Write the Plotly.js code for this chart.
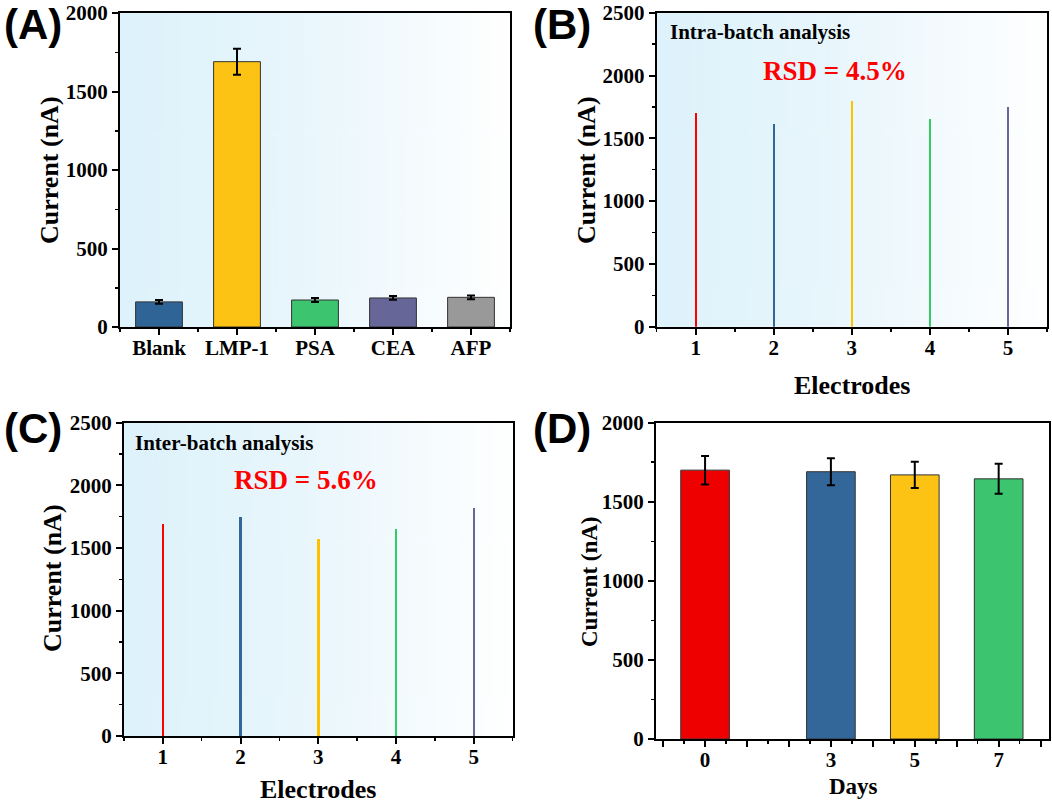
<!DOCTYPE html>
<html><head><meta charset="utf-8">
<script src="https://cdn.plot.ly/plotly-3.0.1.min.js"></script>
<style>html,body{margin:0;padding:0;background:#fff}#chart{width:1052px;height:804px}</style>
</head><body><div id="chart"></div>
<script>
// ---- data ----
const catsA = ['Blank', 'LMP-1', 'PSA', 'CEA', 'AFP'];
const valsA = [160, 1690, 172, 185, 189];
const errA = [12, 83, 13, 12, 12];
const colorsA = ['#2f6497', '#fcc314', '#3cc46e', '#666699', '#999999'];

const electrodes = [1, 2, 3, 4, 5];
const intraVals = [1700, 1610, 1800, 1650, 1750];
const interVals = [1690, 1750, 1575, 1650, 1820];
const lineColors = ['#ff0000', '#336699', '#ffc000', '#33cc66', '#666699'];

const days = [0, 3, 5, 7];
const dayVals = [1700, 1690, 1670, 1645];
const dayErr = [90, 85, 83, 95];
const dayColors = ['#ef0000', '#336699', '#fcc314', '#3cc46e'];

const yTitle = 'Current (nA)';
const xTitleBC = 'Electrodes';
const xTitleD = 'Days';

// ---- helpers ----
const W = 1052, H = 804;
const SERIF = 'Liberation Serif, Times New Roman, serif';
const SANS = 'Liberation Sans, Arial, sans-serif';
const px = x => x / W;
const py = y => 1 - y / H;

function gradURL() {
  const c = document.createElement('canvas');
  c.width = 512; c.height = 4;
  const g = c.getContext('2d');
  const gr = g.createLinearGradient(0, 0, 512, 0);
  gr.addColorStop(0, '#ddf2fb');
  gr.addColorStop(0.45, '#e8f6fc');
  gr.addColorStop(1, '#ffffff');
  g.fillStyle = gr; g.fillRect(0, 0, 512, 4);
  return c.toDataURL();
}

const tickFont = {family: SERIF, size: 21, color: '#000', weight: 'bold'};
function yax(x0, x1, y0, y1, max, anchor) {
  return {
    domain: [py(y1), py(y0)], range: [0, max], anchor: anchor,
    showline: true, mirror: true, linewidth: 2, linecolor: '#000',
    ticks: 'outside', ticklen: 6, tickwidth: 2, tickcolor: '#000',
    tickmode: 'linear', tick0: 0, dtick: 500,
    minor: {ticks: 'outside', ticklen: 3, tickwidth: 1.5, tickcolor: '#000', tickmode: 'linear', tick0: 250, dtick: 500},
    showgrid: false, zeroline: false, tickfont: tickFont, fixedrange: true
  };
}
function xax(x0, x1, range, anchor, extra) {
  return Object.assign({
    domain: [px(x0), px(x1)], range: range, anchor: anchor,
    showline: true, mirror: true, linewidth: 2, linecolor: '#000',
    ticks: 'outside', ticklen: 6, tickwidth: 2, tickcolor: '#000', ticklabelstandoff: -5,
    minor: {ticks: 'outside', ticklen: 3, tickwidth: 1.5, tickcolor: '#000', tickmode: 'linear', tick0: 0.5, dtick: 1},
    showgrid: false, zeroline: false, tickfont: tickFont, fixedrange: true
  }, extra);
}

// ---- traces ----
const idxA = catsA.map((c, i) => i);
const traces = [
  {type: 'bar', x: idxA, y: valsA, width: 0.6, xaxis: 'x', yaxis: 'y',
   marker: {color: colorsA, line: {color: '#333', width: 1}},
   error_y: {type: 'data', array: errA, visible: true, color: '#000', thickness: 2, width: 4}},
  {type: 'bar', x: electrodes, y: intraVals, width: 0.03, xaxis: 'x2', yaxis: 'y2',
   marker: {color: lineColors, line: {width: 0}}},
  {type: 'bar', x: electrodes, y: interVals, width: 0.03, xaxis: 'x3', yaxis: 'y3',
   marker: {color: lineColors, line: {width: 0}}},
  {type: 'bar', x: days, y: dayVals, width: 1.16, xaxis: 'x4', yaxis: 'y4',
   marker: {color: dayColors, line: {color: '#333', width: 1}},
   error_y: {type: 'data', array: dayErr, visible: true, color: '#000', thickness: 2, width: 4}}
];

const dTickVals = [-1, 0, 1, 2, 3, 4, 5, 6, 7, 8];
const dTickText = dTickVals.map(v => days.includes(v) ? String(v) : '');

const grad = gradURL();
const img = (xr, yr) => ({source: grad, xref: xr + ' domain', yref: yr + ' domain', x: 0, y: 1, sizex: 1, sizey: 1,
  sizing: 'stretch', xanchor: 'left', yanchor: 'top', layer: 'below'});

const ann = (text, x, y, size, extra) => Object.assign({text: text, xref: 'paper', yref: 'paper', x: px(x), y: py(y),
  xanchor: 'center', yanchor: 'middle', showarrow: false,
  font: {family: SERIF, size: size, color: '#000', weight: 'bold'}}, extra || {});
const panel = (text, x, y) => ({text: text, xref: 'paper', yref: 'paper', x: px(x), y: py(y), xanchor: 'left', yanchor: 'middle',
  showarrow: false, font: {family: SANS, size: 42, color: '#000', weight: 'bold'}});
const inAnn = (text, xr, yr, x, y, size, color, xanchor) => ({text: text, xref: xr + ' domain', yref: yr + ' domain', x: x, y: y,
  xanchor: xanchor, yanchor: 'middle', showarrow: false, font: {family: SERIF, size: size, color: color, weight: 'bold'}});

const layout = {
  width: W, height: H, margin: {l: 0, r: 0, t: 0, b: 0},
  paper_bgcolor: '#fff', plot_bgcolor: 'rgba(0,0,0,0)', showlegend: false, bargap: 0,
  xaxis: xax(120, 510, [-0.5, 4.5], 'y', {tickmode: 'array', tickvals: idxA, ticktext: catsA}),
  yaxis: yax(120, 510, 13, 327, 2000, 'x'),
  xaxis2: xax(656.7, 1047, [0.5, 5.5], 'y2', {tickmode: 'linear', tick0: 1, dtick: 1}),
  yaxis2: yax(656.7, 1047, 12.7, 326.7, 2500, 'x2'),
  xaxis3: xax(124, 512.7, [0.5, 5.5], 'y3', {tickmode: 'linear', tick0: 1, dtick: 1}),
  yaxis3: yax(124, 512.7, 422.7, 736, 2500, 'x3'),
  xaxis4: xax(656, 1049, [-1.17, 8.2], 'y4', {tickmode: 'array', tickvals: dTickVals, ticktext: dTickText}),
  yaxis4: yax(656, 1049, 422.7, 739, 2000, 'x4'),
  images: [img('x', 'y'), img('x2', 'y2'), img('x3', 'y3')],
  annotations: [
    panel('(A)', 2, 25), panel('(B)', 531, 25), panel('(C)', 2, 428), panel('(D)', 531, 428),
    ann(yTitle, 50, 170, 26, {textangle: -90}),
    ann(yTitle, 587, 170, 26, {textangle: -90}),
    ann(yTitle, 52, 578, 26, {textangle: -90}),
    ann(yTitle, 589, 582, 23, {textangle: -90}),
    ann(xTitleBC, 852, 385, 26),
    ann(xTitleBC, 318, 789, 26),
    ann(xTitleD, 853, 786, 23),
    inAnn('Intra-batch analysis', 'x2', 'y2', 0.028, 0.94, 21, '#000', 'left'),
    inAnn('RSD = 4.5%', 'x2', 'y2', 0.457, 0.814, 27, '#ff0000', 'center'),
    inAnn('Inter-batch analysis', 'x3', 'y3', 0.023, 0.936, 21, '#000', 'left'),
    inAnn('RSD = 5.6%', 'x3', 'y3', 0.467, 0.817, 27, '#ff0000', 'center')
  ]
};

Plotly.newPlot('chart', traces, layout, {staticPlot: true, displayModeBar: false});
</script>
</body></html>
